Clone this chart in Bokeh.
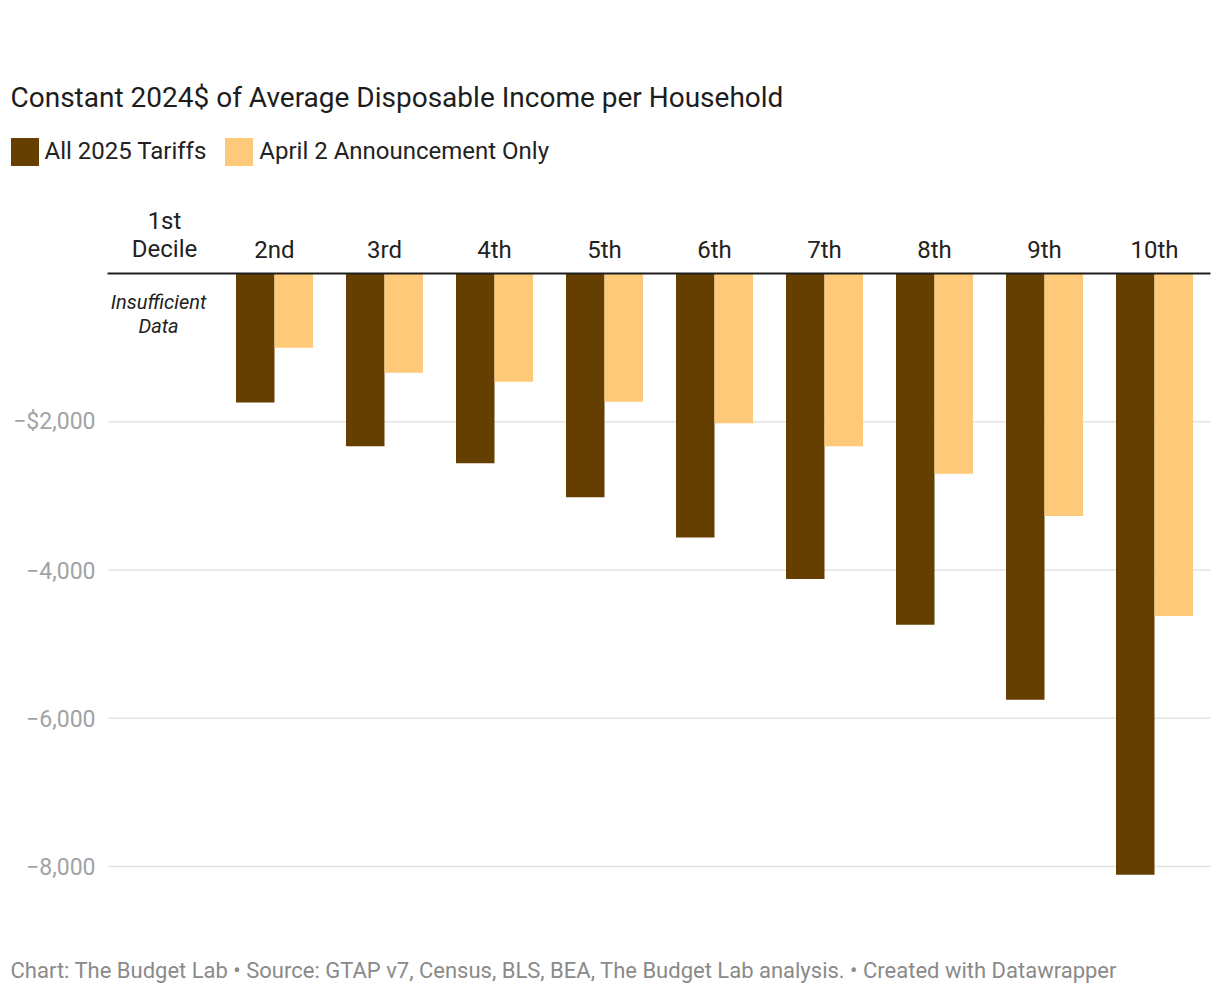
import numpy as np
from bokeh.plotting import figure
from bokeh.models import Range1d, ColumnDataSource, Legend, LegendItem
from bokeh.transform import dodge
from bokeh.core.properties import value
from bokeh.embed import file_html
from bokeh.resources import INLINE

# ---- data ----
deciles = ["1st\nDecile", "2nd", "3rd", "4th", "5th", "6th", "7th", "8th", "9th", "10th"]
all_2025_tariffs = [np.nan, -1740, -2330, -2560, -3020, -3560, -4120, -4740, -5750, -8110]
april2_only = [np.nan, -1000, -1340, -1460, -1730, -2020, -2330, -2700, -3270, -4620]
y_ticks = [-2000, -4000, -6000, -8000]
y_tick_labels = ["\u2212$2,000", "\u22124,000", "\u22126,000", "\u22128,000"]
no_data_note = "Insufficient\nData"

title_text = "Constant 2024$ of Average Disposable Income per Household"
series_names = ["All 2025 Tariffs", "April 2 Announcement Only"]
footer_text = ("Chart: The Budget Lab \u2022 Source: GTAP v7, Census, BLS, BEA, "
               "The Budget Lab analysis. \u2022 Created with Datawrapper")

DARK = "#643f00"
LIGHT = "#fec978"
FONT = "Roboto"

# ---- layout helpers (page pixel -> data) ----
W, H = 1212, 990
PAGE_X0, PAGE_Y0 = 0, 0
BASE_Y = 273            # page y of zero line
PX_PER_UNIT = 593 / 8000
CAT0_X = 164            # page x of first category centre
CAT_W = 110             # pixels per category


def dx(px):
    return 1 + (px - CAT0_X) / CAT_W


def dy(py):
    return (BASE_Y - py) / PX_PER_UNIT


x_idx = np.arange(1, len(deciles) + 1)

p = figure(width=W, height=H, output_backend="svg", toolbar_location=None,
           x_axis_location=None, y_axis_location=None,
           x_range=Range1d(dx(PAGE_X0), dx(PAGE_X0 + W)),
           y_range=Range1d(dy(PAGE_Y0 + H), dy(PAGE_Y0)),
           min_border=0)
p.outline_line_color = None
p.xgrid.visible = False
p.ygrid.visible = False
p.background_fill_color = "white"
p.border_fill_color = "white"

# grid lines
p.segment(x0=[dx(108)] * len(y_ticks), x1=[dx(1210)] * len(y_ticks), y0=y_ticks, y1=y_ticks,
          line_color="#e3e3e3", line_width=1.5)

src = ColumnDataSource(dict(x=x_idx, a=all_2025_tariffs, b=april2_only,
                            zero=[0] * len(deciles)))
bw = 0.35
r1 = p.vbar(x=dodge("x", -bw / 2), width=bw, top="zero", bottom="a", source=src,
            fill_color=DARK, line_color=None)
r2 = p.vbar(x=dodge("x", bw / 2), width=bw, top="zero", bottom="b", source=src,
            fill_color=LIGHT, line_color=None)

# zero baseline
p.segment(x0=[dx(107)], x1=[dx(1210)], y0=[0], y1=[0], line_color="#1f1f1f", line_width=2)

# y tick labels
p.text(x=[dx(95)] * len(y_ticks), y=y_ticks, text=y_tick_labels,
       text_align="right", text_baseline="middle", text_font=value(FONT),
       text_font_size="23px", text_color="#a3a3a3")

# category labels
p.text(x=x_idx, y=[dy(263)] * len(deciles), text=deciles, text_align="center",
       text_baseline="bottom", text_font=value(FONT), text_font_size="24px",
       text_color="#222222", text_line_height=1.03)

# insufficient data note
p.text(x=[dx(158)], y=[dy(289)], text=[no_data_note], text_align="center",
       text_baseline="top", text_font=value(FONT), text_font_style="italic",
       text_font_size="20px", text_color="#222222", text_line_height=1.03)

# title
p.text(x=[dx(10)], y=[dy(97)], text=[title_text], text_align="left",
       text_baseline="middle", text_font=value(FONT), text_font_size="28px",
       text_color="#1d1d1d")

# footer
p.text(x=[dx(10)], y=[dy(970)], text=[footer_text], text_align="left",
       text_baseline="middle", text_font=value(FONT), text_font_size="22px",
       text_color="#8a8a8a")

legend = Legend(items=[LegendItem(label=series_names[0], renderers=[r1]),
                       LegendItem(label=series_names[1], renderers=[r2])],
                orientation="horizontal", location=(6.5 - PAGE_X0, H - (168.5 - PAGE_Y0)),
                glyph_width=35, glyph_height=35, label_standoff=3, spacing=15,
                padding=0, margin=0, label_text_font=FONT, label_text_font_size="24px",
                label_text_color="#222222", background_fill_alpha=0,
                border_line_alpha=0, label_height=35)
p.add_layout(legend)

open("out.html", "w").write(file_html(p, INLINE))
